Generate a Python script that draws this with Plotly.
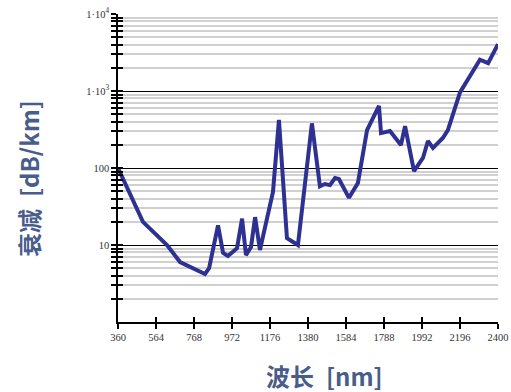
import plotly.graph_objects as go

wavelength = [360, 494, 623, 693, 827, 849, 897, 924, 950, 999, 1026, 1047, 1074, 1096,
              1122, 1192, 1224, 1267, 1326, 1401, 1444, 1471, 1498, 1525, 1546, 1600,
              1648, 1697, 1761, 1772, 1820, 1879, 1901, 1949, 1997, 2024, 2051, 2104,
              2131, 2196, 2303, 2347, 2400]
attenuation = [100, 20, 10, 6.0, 4.2, 5.0, 18, 7.9, 7.2, 9.1, 22, 7.4, 9.4, 23,
               8.6, 49, 420, 12.3, 10, 380, 58, 62, 60, 74, 72, 41,
               64, 311, 640, 284, 302, 199, 350, 91, 135, 224, 182, 245,
               311, 960, 2550, 2300, 4050]

x_ticks = [360, 564, 768, 972, 1176, 1380, 1584, 1788, 1992, 2196, 2400]
y_ticks = [10, 100, 1000, 10000]
y_ticktext = ["10", "100", "1·10<sup>3</sup>", "1·10<sup>4</sup>"]
minor_vals = [m * 10 ** d for d in range(0, 4) for m in range(2, 10)]

x_title = "波长\u2002[nm]"
y_title = "衰减\u2002[dB/km]"

title_color = "#485d8a"
tick_font = dict(family="Liberation Serif", size=10.5, color="#333333")
title_font = dict(family="Noto Sans CJK SC", size=24, color=title_color, weight="bold")

W, H = 511, 392
L, R, T, B = 118, 13, 14, 70
PW, PH = W - L - R, H - T - B

def px_to_paper(x, y):
    return (x - L) / PW, (H - B - y) / PH

xt = px_to_paper(324, 375)
yt = px_to_paper(28, 179)

fig = go.Figure()
fig.add_trace(go.Scatter(x=wavelength, y=attenuation, mode="lines",
                         line=dict(color="#2e3192", width=4), hoverinfo="skip"))
fig.add_trace(go.Scatter(x=[wavelength[0]], y=[attenuation[0]], xaxis="x2", yaxis="y2",
                         mode="markers", marker=dict(opacity=0), hoverinfo="skip"))

fig.update_layout(
    width=W, height=H,
    margin=dict(l=L, r=R, t=T, b=B, autoexpand=False),
    paper_bgcolor="white", plot_bgcolor="white",
    showlegend=False,
    xaxis=dict(
        range=[360, 2400], tickvals=x_ticks, ticktext=[str(v) for v in x_ticks],
        ticks="outside", ticklen=5, tickwidth=1.5, tickcolor="black",
        showline=True, linecolor="black", linewidth=1.5, automargin=False,
        showgrid=False, zeroline=False, tickfont=tick_font, ticklabeloverflow="allow",
    ),
    yaxis=dict(
        type="log", range=[0, 4], tickvals=y_ticks, ticktext=y_ticktext,
        ticks="outside", ticklen=5, tickwidth=1.5, tickcolor="black",
        showline=True, linecolor="black", linewidth=1.5, automargin=False,
        showgrid=True, gridcolor="black", gridwidth=1.2, zeroline=False,
        tickfont=tick_font, ticklabeloverflow="allow",
        minor=dict(tickvals=minor_vals, ticks="outside", ticklen=5, tickwidth=1.5,
                   tickcolor="black", showgrid=True, gridcolor="#d0d0d0", gridwidth=1.5),
    ),
    xaxis2=dict(
        overlaying="x", matches="x", side="bottom", anchor="y2", automargin=False,
        range=[360, 2400], tickvals=x_ticks, showticklabels=False,
        ticks="inside", ticklen=5, tickwidth=1.5, tickcolor="black",
        showgrid=False, zeroline=False, showline=False,
    ),
    yaxis2=dict(
        overlaying="y", type="log", range=[0, 4], side="left", anchor="x2", automargin=False,
        tickvals=y_ticks, showticklabels=False,
        ticks="inside", ticklen=5, tickwidth=1.5, tickcolor="black",
        minor=dict(tickvals=minor_vals, ticks="inside", ticklen=5, tickwidth=1.5,
                   tickcolor="black", showgrid=False),
        showgrid=False, zeroline=False, showline=False,
    ),
    annotations=[
        dict(text=x_title, x=xt[0], y=xt[1], xref="paper", yref="paper", showarrow=False,
             font=title_font, xanchor="center", yanchor="middle"),
        dict(text=y_title, x=yt[0], y=yt[1], xref="paper", yref="paper", showarrow=False,
             textangle=-90, font=title_font, xanchor="center", yanchor="middle"),
    ],
)

fig.write_html("out.html", config={"displayModeBar": False},
               post_script="document.body.style.margin='0';document.body.style.overflow='hidden';")
